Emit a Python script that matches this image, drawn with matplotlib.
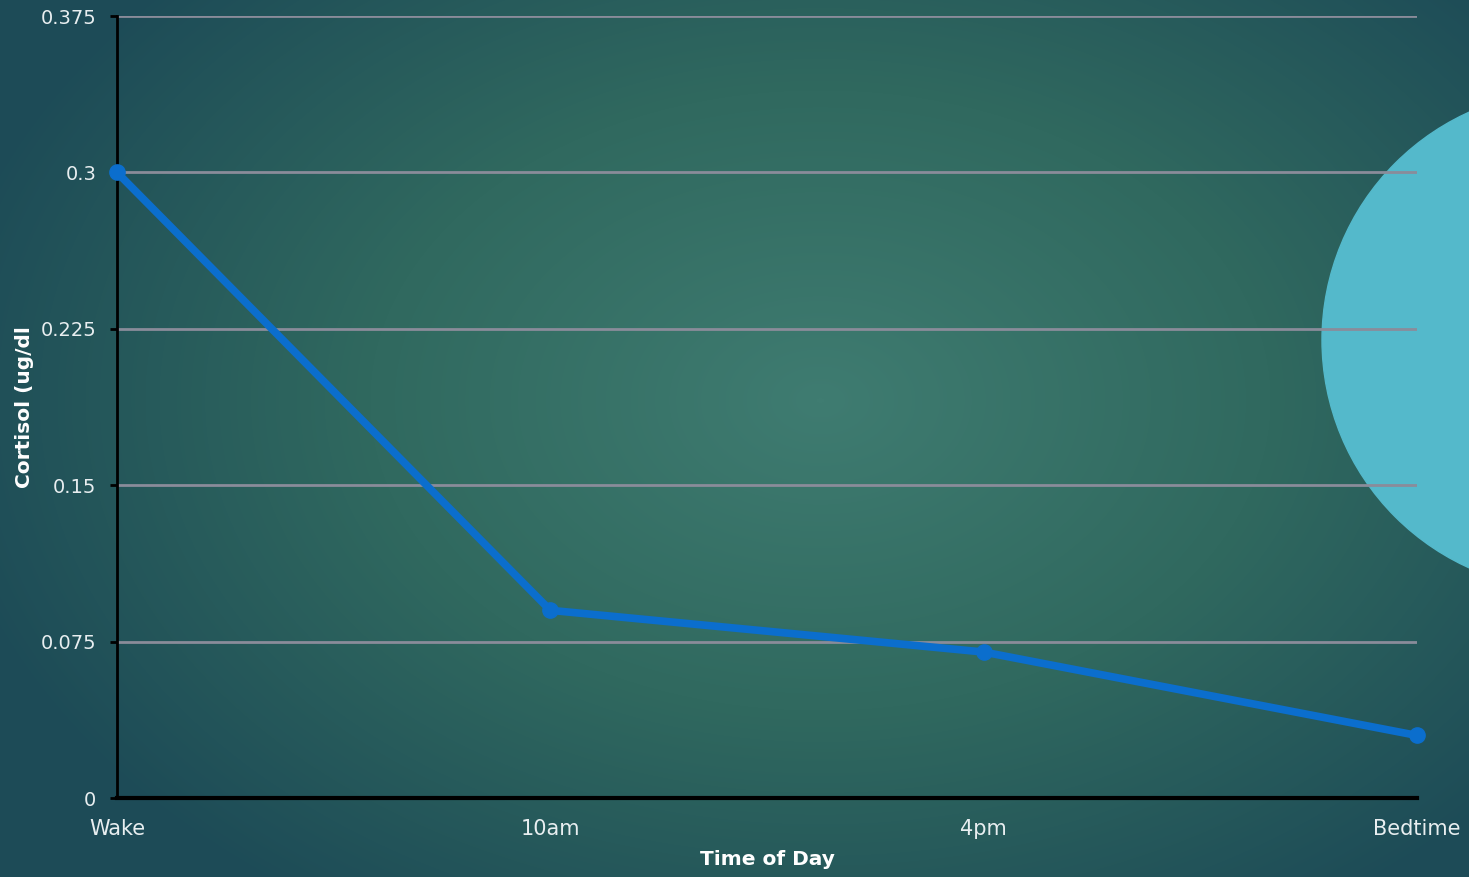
import numpy as np
import matplotlib
matplotlib.use("Agg")
import matplotlib.pyplot as plt
from matplotlib.patches import Circle
from matplotlib.colors import LinearSegmentedColormap

categories = ["Wake", "10am", "4pm", "Bedtime"]
cortisol = [0.3, 0.09, 0.07, 0.03]
yticks = [0, 0.075, 0.15, 0.225, 0.3, 0.375]
ytick_labels = ["0", "0.075", "0.15", "0.225", "0.3", "0.375"]

W, H = 1469, 877
fig = plt.figure(figsize=(W / 100, H / 100), dpi=100)

# background radial gradient
bg = fig.add_axes([0, 0, 1, 1])
bg.set_xlim(0, W)
bg.set_ylim(H, 0)
bg.axis("off")
yy, xx = np.mgrid[0:H, 0:W]
cx, cy = 820, 400
d = np.sqrt(((xx - cx) / 900.0) ** 2 + ((yy - cy) / 620.0) ** 2)
d = np.clip(d, 0, 1)
cmap = LinearSegmentedColormap.from_list("bg", ["#3f7c71", "#30695f", "#1d4b57"])
bg.imshow(d, cmap=cmap, extent=[0, W, H, 0], aspect="auto", interpolation="bilinear")
bg.add_patch(Circle((1572, 340), 250, color="#54b9cb", zorder=2))

ax = fig.add_axes([117 / W, 1 - 798 / H, 1300 / W, 782 / H])
ax.patch.set_alpha(0)
x = np.arange(len(categories))
ax.plot(x, cortisol, color="#0b6ecd", lw=5.5, marker="o", ms=11, solid_capstyle="round", zorder=3, clip_on=False)
ax.set_xlim(0, len(categories) - 1)
ax.set_ylim(0, 0.375)
ax.set_yticks(yticks)
ax.set_yticklabels(ytick_labels)
ax.set_xticks(x)
ax.set_xticklabels(categories)
ax.yaxis.grid(True, color="#8a8c9a", lw=2)
ax.set_axisbelow(True)
for s in ["top", "right"]:
    ax.spines[s].set_visible(False)
ax.spines["left"].set_linewidth(2)
ax.spines["left"].set_color("black")
ax.spines["bottom"].set_linewidth(3)
ax.spines["bottom"].set_color("black")
ax.tick_params(axis="y", length=5, width=2, color="black", labelsize=14, labelcolor="#e8eef0", pad=10)
ax.tick_params(axis="x", length=0, labelsize=15, labelcolor="#e8eef0", pad=15)
for t in ax.get_xticklabels() + ax.get_yticklabels():
    t.set_family("DejaVu Sans")
ax.set_xlabel("Time of Day", fontsize=14.5, color="white", fontweight="bold", family="DejaVu Sans", labelpad=8)
ax.set_ylabel("Cortisol (ug/dl", fontsize=14.5, color="white", fontweight="bold", family="DejaVu Sans")
ax.yaxis.set_label_coords(-0.064, 0.5)

fig.savefig("out.png", dpi=100)
